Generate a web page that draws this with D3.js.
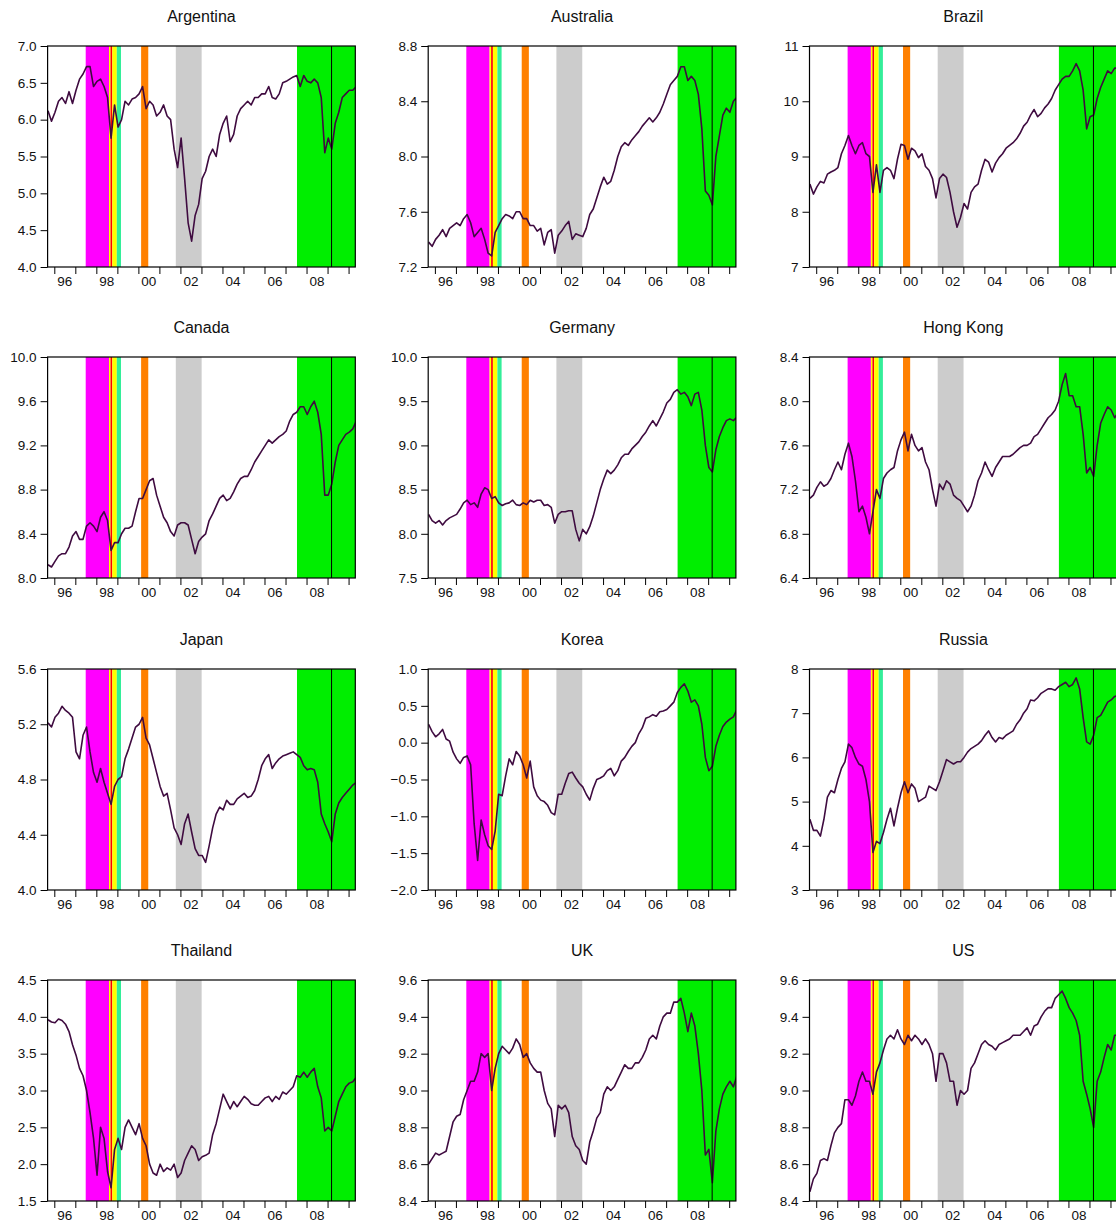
<!DOCTYPE html>
<html>
<head>
<meta charset="utf-8">
<script src="https://cdn.jsdelivr.net/npm/d3@7"></script>
<style>
body { margin: 0; background: #fff; }
text { font-family: "Liberation Sans", Arial, sans-serif; }
</style>
</head>
<body>
<script>
// sample dates, every two months (decimal years)
var dates = d3.range(89).map(function(i) { return 1995.70 + i / 6; });

// log stock index levels
var argentina = [6.12, 5.98, 6.1, 6.25, 6.3, 6.22, 6.38, 6.22, 6.4, 6.55,
  6.62, 6.72, 6.72, 6.45, 6.52, 6.55, 6.45, 6.3, 5.75, 6.2,
  5.9, 6.0, 6.25, 6.2, 6.28, 6.3, 6.35, 6.45, 6.15, 6.25,
  6.2, 6.05, 6.1, 6.2, 6.05, 6.0, 5.6, 5.35, 5.75, 5.2,
  4.6, 4.35, 4.7, 4.85, 5.2, 5.3, 5.5, 5.6, 5.5, 5.8,
  5.95, 6.05, 5.7, 5.8, 6.05, 6.15, 6.2, 6.25, 6.2, 6.3,
  6.3, 6.35, 6.35, 6.45, 6.3, 6.28, 6.35, 6.5, 6.52, 6.55,
  6.58, 6.6, 6.45, 6.6, 6.52, 6.5, 6.55, 6.5, 6.3, 5.55,
  5.75, 5.6, 5.95, 6.1, 6.3, 6.35, 6.4, 6.4, 6.45];
var australia = [7.38, 7.35, 7.4, 7.43, 7.47, 7.42, 7.48, 7.5, 7.52, 7.5,
  7.55, 7.58, 7.52, 7.42, 7.45, 7.48, 7.4, 7.3, 7.28, 7.45,
  7.5, 7.55, 7.58, 7.57, 7.55, 7.6, 7.6, 7.55, 7.55, 7.5,
  7.5, 7.46, 7.48, 7.36, 7.45, 7.47, 7.3, 7.43, 7.46, 7.5,
  7.53, 7.4, 7.44, 7.43, 7.42, 7.48, 7.58, 7.62, 7.7, 7.78,
  7.85, 7.8, 7.82, 7.9, 8.0, 8.07, 8.1, 8.08, 8.12, 8.15,
  8.18, 8.22, 8.25, 8.28, 8.25, 8.28, 8.32, 8.38, 8.45, 8.52,
  8.55, 8.58, 8.65, 8.65, 8.55, 8.58, 8.55, 8.45, 8.2, 7.75,
  7.72, 7.65, 8.0, 8.15, 8.3, 8.35, 8.32, 8.4, 8.43];
var brazil = [8.5, 8.32, 8.45, 8.55, 8.52, 8.68, 8.72, 8.75, 8.8, 9.05,
  9.2, 9.38, 9.2, 9.05, 9.2, 9.25, 9.05, 9.0, 8.35, 8.85,
  8.35, 8.75, 8.8, 8.75, 8.6, 8.95, 9.22, 9.2, 8.95, 9.15,
  9.1, 8.98, 9.05, 8.82, 8.75, 8.6, 8.25, 8.6, 8.68, 8.62,
  8.35, 8.0, 7.72, 7.9, 8.15, 8.05, 8.35, 8.45, 8.5, 8.75,
  8.95, 8.9, 8.72, 8.88, 8.98, 9.05, 9.15, 9.2, 9.25, 9.32,
  9.42, 9.55, 9.62, 9.75, 9.85, 9.72, 9.78, 9.88, 9.95, 10.05,
  10.2, 10.3, 10.4, 10.45, 10.45, 10.55, 10.68, 10.55, 10.2, 9.5,
  9.72, 9.75, 10.05, 10.25, 10.4, 10.55, 10.5, 10.6, 10.6];
var canada = [8.12, 8.1, 8.15, 8.2, 8.22, 8.22, 8.28, 8.38, 8.42, 8.35,
  8.35, 8.47, 8.5, 8.47, 8.42, 8.55, 8.6, 8.52, 8.25, 8.32,
  8.32, 8.4, 8.45, 8.45, 8.47, 8.6, 8.72, 8.72, 8.8, 8.88,
  8.9, 8.75, 8.65, 8.55, 8.5, 8.42, 8.38, 8.48, 8.5, 8.5,
  8.48, 8.35, 8.22, 8.33, 8.37, 8.4, 8.52, 8.58, 8.65, 8.72,
  8.75, 8.7, 8.72, 8.78, 8.85, 8.9, 8.92, 8.92, 8.98, 9.05,
  9.1, 9.15, 9.2, 9.25, 9.22, 9.25, 9.28, 9.3, 9.33, 9.42,
  9.48, 9.5, 9.55, 9.55, 9.48, 9.55, 9.6, 9.5, 9.3, 8.75,
  8.75, 8.85, 9.05, 9.2, 9.25, 9.3, 9.32, 9.35, 9.42];
var germany = [8.22, 8.15, 8.12, 8.15, 8.1, 8.15, 8.18, 8.2, 8.22, 8.28,
  8.35, 8.38, 8.33, 8.35, 8.3, 8.45, 8.52, 8.5, 8.4, 8.42,
  8.35, 8.32, 8.34, 8.35, 8.38, 8.33, 8.32, 8.35, 8.33, 8.38,
  8.36, 8.38, 8.38, 8.32, 8.33, 8.3, 8.12, 8.22, 8.25, 8.25,
  8.26, 8.26, 8.05, 7.92, 8.05, 8.0, 8.08, 8.2, 8.35, 8.5,
  8.62, 8.72, 8.68, 8.72, 8.78, 8.86, 8.9, 8.9, 8.96, 9.0,
  9.04, 9.1, 9.15, 9.22, 9.28, 9.22, 9.3, 9.38, 9.48, 9.52,
  9.6, 9.63, 9.58, 9.6, 9.55, 9.45, 9.58, 9.6, 9.4, 9.0,
  8.75, 8.7, 8.95, 9.1, 9.2, 9.28, 9.3, 9.28, 9.32];
var hongKong = [7.12, 7.15, 7.22, 7.27, 7.23, 7.25, 7.3, 7.38, 7.45, 7.38,
  7.52, 7.62, 7.5, 7.28, 7.0, 7.05, 6.95, 6.8, 7.0, 7.2,
  7.12, 7.3, 7.35, 7.38, 7.4, 7.55, 7.65, 7.72, 7.55, 7.7,
  7.6, 7.55, 7.58, 7.45, 7.38, 7.2, 7.05, 7.25, 7.2, 7.28,
  7.25, 7.15, 7.12, 7.1, 7.05, 7.0, 7.05, 7.15, 7.28, 7.35,
  7.45, 7.38, 7.32, 7.4, 7.45, 7.5, 7.5, 7.5, 7.52, 7.55,
  7.58, 7.6, 7.6, 7.62, 7.68, 7.7, 7.75, 7.8, 7.85, 7.88,
  7.92, 8.0, 8.15, 8.25, 8.05, 8.05, 7.95, 7.95, 7.7, 7.35,
  7.4, 7.32, 7.6, 7.8, 7.88, 7.95, 7.92, 7.85, 7.9];
var japan = [5.21, 5.18, 5.25, 5.28, 5.33, 5.3, 5.28, 5.25, 5.0, 4.95,
  5.12, 5.18, 5.0, 4.85, 4.78, 4.88, 4.78, 4.7, 4.62, 4.75,
  4.8, 4.82, 4.95, 5.02, 5.1, 5.18, 5.2, 5.25, 5.1, 5.05,
  4.95, 4.85, 4.75, 4.68, 4.7, 4.58, 4.45, 4.4, 4.33, 4.48,
  4.55, 4.42, 4.3, 4.25, 4.25, 4.2, 4.32, 4.45, 4.55, 4.6,
  4.58, 4.65, 4.62, 4.62, 4.66, 4.68, 4.7, 4.67, 4.68, 4.72,
  4.8, 4.9, 4.95, 4.98, 4.88, 4.92, 4.95, 4.97, 4.98, 4.99,
  5.0, 4.98, 4.96, 4.9, 4.87, 4.88, 4.87, 4.78, 4.55, 4.48,
  4.42, 4.35, 4.55, 4.63, 4.67, 4.7, 4.73, 4.76, 4.78];
var korea = [0.25, 0.15, 0.08, 0.12, 0.18, 0.05, 0.02, -0.13, -0.22, -0.28,
  -0.2, -0.18, -0.3, -1.1, -1.6, -1.05, -1.25, -1.4, -1.45, -1.2,
  -0.7, -0.72, -0.45, -0.22, -0.3, -0.12, -0.18, -0.3, -0.48, -0.25,
  -0.6, -0.72, -0.78, -0.8, -0.85, -0.95, -0.98, -0.7, -0.7, -0.55,
  -0.42, -0.4, -0.48, -0.55, -0.6, -0.7, -0.78, -0.62, -0.5, -0.48,
  -0.45, -0.38, -0.35, -0.45, -0.38, -0.25, -0.2, -0.12, -0.05, 0.0,
  0.12, 0.2, 0.33, 0.35, 0.38, 0.36, 0.42, 0.43, 0.45, 0.5,
  0.55, 0.68, 0.75, 0.8, 0.7, 0.55, 0.58, 0.5, 0.25, -0.2,
  -0.38, -0.32, -0.05, 0.1, 0.22, 0.28, 0.32, 0.35, 0.45];
var russia = [4.6, 4.35, 4.35, 4.22, 4.6, 5.1, 5.25, 5.2, 5.5, 5.75,
  5.9, 6.3, 6.22, 6.0, 5.85, 5.8, 5.5, 5.0, 3.85, 4.1,
  4.05, 4.3, 4.6, 4.85, 4.45, 4.85, 5.2, 5.45, 5.2, 5.4,
  5.3, 5.0, 5.05, 5.1, 5.35, 5.3, 5.25, 5.45, 5.7, 5.95,
  5.9, 5.85, 5.9, 5.9, 6.0, 6.12, 6.2, 6.25, 6.3, 6.38,
  6.5, 6.6, 6.45, 6.35, 6.45, 6.42, 6.5, 6.55, 6.6, 6.75,
  6.85, 7.0, 7.1, 7.3, 7.28, 7.35, 7.45, 7.5, 7.55, 7.55,
  7.52, 7.6, 7.65, 7.7, 7.6, 7.65, 7.8, 7.55, 6.9, 6.35,
  6.3, 6.5, 6.9, 6.95, 7.1, 7.25, 7.3, 7.38, 7.4];
var thailand = [3.96, 3.93, 3.92, 3.97, 3.95, 3.9, 3.8, 3.62, 3.48, 3.3,
  3.2, 3.0, 2.7, 2.35, 1.85, 2.5, 2.35, 1.9, 1.68, 2.2,
  2.35, 2.2, 2.5, 2.6, 2.5, 2.4, 2.55, 2.35, 2.25, 2.0,
  1.88, 1.85, 2.0, 1.9, 1.95, 1.92, 2.0, 1.82, 1.88, 2.05,
  2.15, 2.25, 2.2, 2.05, 2.1, 2.12, 2.15, 2.4, 2.55, 2.75,
  2.95, 2.85, 2.75, 2.85, 2.78, 2.85, 2.92, 2.88, 2.82, 2.8,
  2.8, 2.85, 2.9, 2.92, 2.85, 2.92, 2.88, 2.98, 2.95, 3.0,
  3.05, 3.2, 3.18, 3.25, 3.18, 3.25, 3.3, 3.05, 2.9, 2.45,
  2.5, 2.45, 2.65, 2.85, 2.95, 3.05, 3.1, 3.12, 3.18];
var uk = [8.6, 8.63, 8.66, 8.65, 8.66, 8.67, 8.75, 8.83, 8.86, 8.87,
  8.95, 9.0, 9.05, 9.05, 9.1, 9.2, 9.18, 9.2, 9.0, 9.12,
  9.2, 9.24, 9.22, 9.2, 9.23, 9.28, 9.25, 9.18, 9.2, 9.15,
  9.12, 9.1, 9.1, 9.0, 8.93, 8.9, 8.75, 8.92, 8.9, 8.92,
  8.88, 8.75, 8.7, 8.68, 8.62, 8.6, 8.72, 8.78, 8.85, 8.88,
  8.98, 9.02, 9.0, 9.02, 9.06, 9.1, 9.14, 9.12, 9.12, 9.15,
  9.15, 9.18, 9.22, 9.28, 9.3, 9.28, 9.35, 9.4, 9.42, 9.42,
  9.48, 9.48, 9.5, 9.42, 9.32, 9.42, 9.35, 9.2, 9.0, 8.65,
  8.68, 8.5, 8.78, 8.9, 8.98, 9.02, 9.05, 9.02, 9.08];
var us = [8.45, 8.52, 8.55, 8.62, 8.63, 8.62, 8.7, 8.77, 8.8, 8.82,
  8.95, 8.95, 8.92, 8.97, 9.05, 9.1, 9.05, 9.05, 8.98, 9.1,
  9.15, 9.22, 9.28, 9.3, 9.28, 9.33, 9.28, 9.25, 9.3, 9.27,
  9.3, 9.28, 9.25, 9.28, 9.25, 9.2, 9.05, 9.2, 9.2, 9.15,
  9.05, 9.05, 8.92, 9.0, 8.98, 9.0, 9.12, 9.15, 9.2, 9.25,
  9.27, 9.25, 9.24, 9.22, 9.25, 9.26, 9.27, 9.28, 9.3, 9.3,
  9.3, 9.32, 9.34, 9.3, 9.35, 9.36, 9.4, 9.43, 9.45, 9.45,
  9.5, 9.52, 9.54, 9.5, 9.45, 9.42, 9.38, 9.3, 9.05, 8.98,
  8.9, 8.8, 9.05, 9.1, 9.18, 9.25, 9.22, 9.3, 9.3];

var countries = ['Argentina', 'Australia', 'Brazil', 'Canada', 'Germany', 'Hong Kong',
  'Japan', 'Korea', 'Russia', 'Thailand', 'UK', 'US'];
var series = [argentina, australia, brazil, canada, germany, hongKong,
  japan, korea, russia, thailand, uk, us];

// y tick labels for each panel
var yTicks = [
  [4.0, 4.5, 5.0, 5.5, 6.0, 6.5, 7.0],
  [7.2, 7.6, 8.0, 8.4, 8.8],
  [7, 8, 9, 10, 11],
  [8.0, 8.4, 8.8, 9.2, 9.6, 10.0],
  [7.5, 8.0, 8.5, 9.0, 9.5, 10.0],
  [6.4, 6.8, 7.2, 7.6, 8.0, 8.4],
  [4.0, 4.4, 4.8, 5.2, 5.6],
  [-2.0, -1.5, -1.0, -0.5, 0.0, 0.5, 1.0],
  [3, 4, 5, 6, 7, 8],
  [1.5, 2.0, 2.5, 3.0, 3.5, 4.0, 4.5],
  [8.4, 8.6, 8.8, 9.0, 9.2, 9.4, 9.6],
  [8.4, 8.6, 8.8, 9.0, 9.2, 9.4, 9.6]
];

// crisis periods (shaded)
var bandStart = [1997.494, 1998.602, 1998.674, 1998.759, 1998.973, 2000.13, 2001.78, 2007.546];
var bandEnd = [1998.602, 1998.674, 1998.759, 1998.973, 1999.173, 2000.47, 2003.01, 2010.5];
var markerDate = 2009.19;
var yearTicks = d3.range(1996, 2011);
var yearLabels = [1996, 1998, 2000, 2002, 2004, 2006, 2008];

// styles and layout
var bandColors = ['#ff00ff', '#ffff00', '#ff0000', '#ffff00', '#33ee99', '#ff8000', '#cccccc', '#00ee00'];
var colLeft = [47.6, 428.2, 809.5];
var rowTop = [46, 357, 669, 980];
var plotW = 307.7, plotH = 221;

var svg = d3.select('body').append('svg')
  .attr('width', 1116)
  .attr('height', 1221);

function drawPanel(i) {
  var g = svg.append('g')
    .attr('transform', 'translate(' + colLeft[i % 3] + ',' + rowTop[Math.floor(i / 3)] + ')');

  var x = d3.scaleLinear().domain([1995.681, 2010.32]).range([0, plotW]);
  var y = d3.scaleLinear().domain(d3.extent(yTicks[i])).range([plotH, 0]);

  g.append('clipPath').attr('id', 'clip' + i)
    .append('rect').attr('width', plotW).attr('height', plotH);

  var inner = g.append('g').attr('clip-path', 'url(#clip' + i + ')');

  inner.selectAll('rect.band')
    .data(bandStart)
    .enter()
    .append('rect')
    .attr('class', 'band')
    .attr('x', function(d) { return x(d); })
    .attr('width', function(d, k) { return x(bandEnd[k]) - x(d); })
    .attr('y', 0)
    .attr('height', plotH)
    .attr('fill', function(d, k) { return bandColors[k]; });

  var line = d3.line()
    .x(function(d, k) { return x(dates[k]); })
    .y(function(d) { return y(d); });

  inner.append('path')
    .datum(series[i])
    .attr('d', line)
    .attr('fill', 'none')
    .attr('stroke', '#3f0b40')
    .attr('stroke-width', 1.6)
    .attr('stroke-linejoin', 'round');

  inner.append('line')
    .attr('x1', x(markerDate)).attr('x2', x(markerDate))
    .attr('y1', 0).attr('y2', plotH)
    .attr('stroke', '#000')
    .attr('stroke-width', 1);

  // frame
  g.append('rect')
    .attr('width', plotW).attr('height', plotH)
    .attr('fill', 'none')
    .attr('stroke', '#000')
    .attr('stroke-width', 1.2);

  var allInt = yTicks[i].every(function(v) { return v === Math.round(v); });
  var yAxis = d3.axisLeft(y)
    .tickValues(yTicks[i])
    .tickSize(7)
    .tickPadding(4)
    .tickFormat(d3.format(allInt ? 'd' : '.1f'));
  var ya = g.append('g').call(yAxis);
  ya.select('.domain').remove();
  ya.selectAll('text').attr('font-size', 13.5).attr('fill', '#111')
    .attr('font-family', '"Liberation Sans", Arial, sans-serif');

  var xAxis = d3.axisBottom(x).tickValues(yearTicks).tickSize(7).tickFormat('');
  var xa = g.append('g').attr('transform', 'translate(0,' + plotH + ')').call(xAxis);
  xa.select('.domain').remove();

  // year labels sit between the year ticks
  g.selectAll('text.year')
    .data(yearLabels)
    .enter()
    .append('text')
    .attr('class', 'year')
    .attr('x', function(d) { return x(d + 0.5); })
    .attr('y', plotH + 18.5)
    .attr('text-anchor', 'middle')
    .attr('font-size', 13.5)
    .attr('fill', '#111')
    .text(function(d) { return String(d).slice(2); });

  g.append('text')
    .attr('x', plotW / 2)
    .attr('y', -24)
    .attr('text-anchor', 'middle')
    .attr('font-size', 16)
    .attr('fill', '#111')
    .text(countries[i]);
}

countries.forEach(function(c, i) { drawPanel(i); });
</script>
</body>
</html>
